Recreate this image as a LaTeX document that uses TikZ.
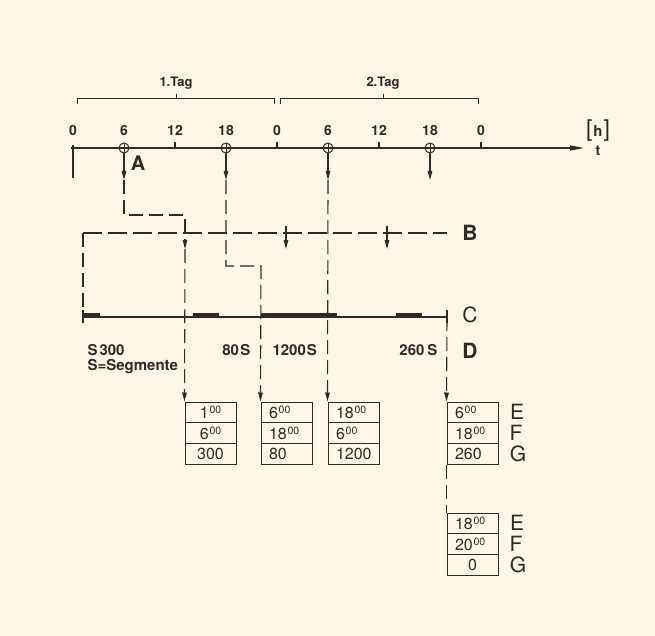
\documentclass[tikz,border=0pt]{standalone}
\usepackage{fontspec}
\setmainfont{TeX Gyre Heros}
\usetikzlibrary{arrows.meta}
\definecolor{paper}{HTML}{FCF7E6}
\definecolor{ink}{HTML}{2E2A26}
\newcommand\hh[1]{#1\kern0.8pt\raisebox{0.3em}{\fontsize{10.5}{10.5}\selectfont 00}}
\begin{document}
\begin{tikzpicture}[x=1pt,y=-1pt,line width=1.1pt, color=ink,
  arr/.style={-{Triangle[length=9pt,width=4.5pt]}},
  dsh/.style={dash pattern=on 14pt off 6pt},
  ldsh/.style={dash pattern=on 19pt off 6pt},
  tick/.style={font=\bfseries\fontsize{14}{14}\selectfont},
  tagl/.style={font=\bfseries\fontsize{13}{13}\selectfont},
  dlab/.style={font=\bfseries\fontsize{15}{15}\selectfont, inner sep=0pt},
  letter/.style={font=\fontsize{21}{21}\selectfont},
  bletter/.style={font=\bfseries\fontsize{21}{21}\selectfont},
  rlet/.style={font=\fontsize{21}{21}\selectfont},
  tc/.style={circle, draw, line width=1pt, minimum size=10pt, inner sep=0pt,
    path picture={\draw[line width=1pt] (path picture bounding box.north) -- (path picture bounding box.south);}},
  cell/.style={draw, line width=1pt, minimum width=51pt, minimum height=20.8pt,
    inner xsep=0pt, inner ysep=0pt, text width=35pt, align=left,
    font=\fontsize{16}{16}\selectfont},
  ccell/.style={cell, align=center}]
\fill[paper] (0,0) rectangle (655,636);
\useasboundingbox (0,0) rectangle (655,636);

% day brackets
\draw[line width=0.9pt] (77,104) -- (77,98) -- (274,98) -- (274,104);
\draw[line width=0.9pt] (176,98) -- (176,94);
\node[tagl] (tag1) at (176,83) {1.Tag};
\draw[line width=0.9pt] (280,104) -- (280,98) -- (478,98) -- (478,104);
\draw[line width=0.9pt] (383,98) -- (383,94);
\node[tagl] (tag2) at (383,83) {2.Tag};

% time axis
\coordinate (ax0) at (71,148);
\coordinate (axE) at (584,148);
\draw[line width=1.5pt, -{Triangle[length=14pt,width=5pt]}] (ax0) -- (axE);
\foreach \x in {175,277,379,481} \draw (\x,148) -- (\x,142);
\draw[line width=2.2pt] (73,145) -- (73,178);
\foreach \x/\l in {73/0,124/6,175/12,226/18,277/0,328/6,379/12,430/18,481/0}
  \node[tick] at (\x,130) {\l};
\node (hunit) at (598,131) {\fontsize{23}{23}\selectfont[\kern1pt{\bfseries\fontsize{15}{15}\selectfont h}\kern1pt]};
\node[font=\bfseries\fontsize{14}{14}\selectfont] (tl) at (598,151) {t};

% marked times
\node[tc] (p1) at (124,148) {};
\node[tc] (p2) at (226,148) {};
\node[tc] (p3) at (328,148) {};
\node[tc] (p4) at (430,148) {};
\node[bletter, font=\bfseries\fontsize{20}{20}\selectfont] (A) at (138,163) {A};
\coordinate (q1) at (124,180);
\coordinate (q2) at (226,180);
\coordinate (q3) at (328,180);
\coordinate (q4) at (430,180);
\foreach \i in {1,2,3,4} \draw[arr] (p\i.south) -- (q\i);

% boxes
\node[ccell] (b1a) at (210.5,412.4) {\hh{1}};
\node[ccell] (b1b) at (210.5,433.2) {\hh{6}};
\node[ccell] (b1c) at (210.5,454.0) {300};
\node[cell] (b2a) at (286.5,412.4) {\hh{6}};
\node[cell] (b2b) at (286.5,433.2) {\hh{18}};
\node[cell] (b2c) at (286.5,454.0) {80};
\node[cell] (b3a) at (353.5,412.4) {\hh{18}};
\node[cell] (b3b) at (353.5,433.2) {\hh{6}};
\node[cell] (b3c) at (353.5,454.0) {1200};
\node[cell] (b4a) at (472.5,412.4) {\hh{6}};
\node[cell] (b4b) at (472.5,433.2) {\hh{18}};
\node[cell] (b4c) at (472.5,454.0) {260};
\node[cell] (b5a) at (472.5,523.4) {\hh{18}};
\node[cell] (b5b) at (472.5,544.2) {\hh{20}};
\node[ccell] (b5c) at (472.5,565.0) {0};

% B line
\coordinate (bL) at (83,233);
\coordinate (bR) at (447,233);
\coordinate (cL) at (83,317);
\coordinate (cR) at (447,317);
\draw[ldsh] (bL) -- (bR);
\draw[dsh] (bL) -- (cL);
\coordinate (ba1) at (286,226);
\coordinate (bb1) at (286,249);
\coordinate (ba2) at (387,226);
\coordinate (bb2) at (387,249);
\draw[arr] (ba1) -- (bb1);
\draw[arr] (ba2) -- (bb2);

% dashed routes
\coordinate (k1) at (185,215);
\coordinate (r1) at (185,249);
\draw[dsh, arr] (q1) |- (k1) -- (r1);
\draw[dsh, arr] (r1) -- (b1a.north west);
\coordinate (k2) at (261,266);
\draw[dsh, arr] (q2) |- (k2) -- (b2a.north west);
\draw[dsh, arr] (q3) -- (b3a.north west);

% C line
\draw (cL) -- (cR);
\draw (83,310) -- (83,323);
\draw (447,310) -- (447,323);
\foreach \a/\b in {83/100,193/219,261/337,396/422}
  \fill (\a,312.5) rectangle (\b,318);
\draw[dsh, arr] (cR) -- (b4a.north west);
\draw[dsh] (b4c.south west) -- (b5a.north west);

% D labels
\node[dlab, anchor=west] (d1) at (87,350) {S\kern2pt300};
\node[dlab, anchor=west] (d2) at (87,367) {S=Segmente};
\node[dlab, anchor=east] (d3) at (251,350) {80\kern1.5pt S};
\node[dlab, anchor=west] (d4) at (272,350) {1200\kern1pt S};
\node[dlab, anchor=east] (d5) at (438,350) {260\kern3pt S};

% row letters
\node[bletter] (lB) at (470,233) {B};
\node[letter] (lC) at (470,315) {C};
\node[bletter] (lD) at (470,351) {D};
\node[rlet] (e1) at (517,412) {E};
\node[rlet] (f1) at (516,433) {F};
\node[rlet] (g1) at (518,454) {G};
\node[rlet] (e2) at (517,523) {E};
\node[rlet] (f2) at (516,544) {F};
\node[rlet] (g2) at (518,565) {G};
\end{tikzpicture}
\end{document}
